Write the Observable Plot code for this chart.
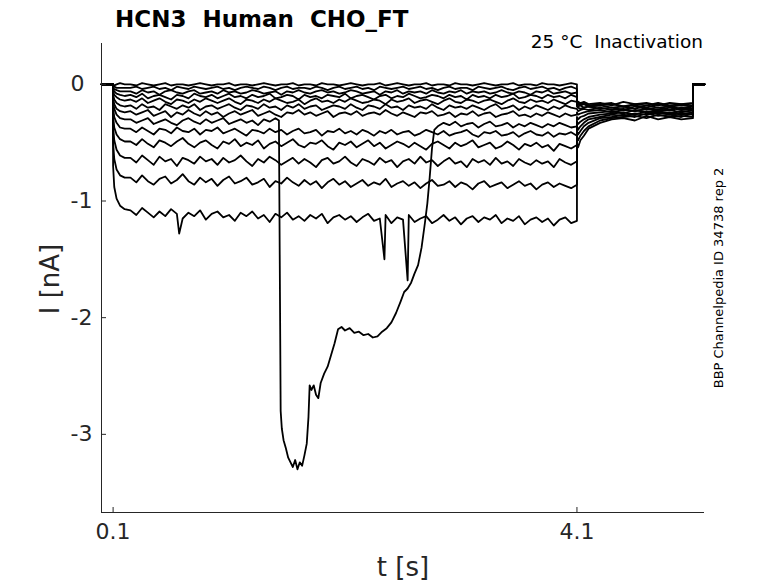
<!DOCTYPE html>
<html><head><meta charset="utf-8">
<script src="https://cdn.jsdelivr.net/npm/d3@7"></script>
<script src="https://cdn.jsdelivr.net/npm/@observablehq/plot@0.6"></script>
<style>body{margin:0;background:#fff} #chart{width:778px;height:583px}</style>
</head><body><div id="chart"></div>
<script>
const titleText = "HCN3  Human  CHO_FT";
const subtitleText = "25 \u00B0C  Inactivation";
const sideText = "BBP Channelpedia ID 34738 rep 2";
const xLabel = "t [s]";
const yLabel = "I [nA]";
const xTicks = [0.1, 4.1];
const yTicks = [0, -1, -2, -3];
const xDomain = [0, 5.2];
const yDomain = [-3.67, 0.35];

const preT = [0, 0.05, 0.099];
const preI = [0, 0, 0];
const onsetT = [0.1, 0.11, 0.13, 0.16, 0.2];
const mainT = [0.25,0.30,0.35,0.40,0.45,0.50,0.55,0.60,0.65,0.70,
 0.75,0.80,0.85,0.90,0.95,1.00,1.05,1.10,1.15,1.20,
 1.25,1.30,1.35,1.40,1.45,1.50,1.55,1.60,1.65,1.70,
 1.75,1.80,1.85,1.90,1.95,2.00,2.05,2.10,2.15,2.20,
 2.25,2.30,2.35,2.40,2.45,2.50,2.55,2.60,2.65,2.70,
 2.75,2.80,2.85,2.90,2.95,3.00,3.05,3.10,3.15,3.20,
 3.25,3.30,3.35,3.40,3.45,3.50,3.55,3.60,3.65,3.70,
 3.75,3.80,3.85,3.90,3.95,4.00,4.05,4.10];
const tailT = [4.1, 4.11, 4.13, 4.16, 4.2, 4.3, 4.4, 4.5, 4.6, 4.7, 4.8, 4.9, 5.0, 5.1];
const endT = [5.1, 5.2];
const endI = [0, 0];

const onsetI = [
 [0,-0.01,0,0.01,0],
 [-0.01,-0.02,-0.03,-0.03,-0.03],
 [-0.03,-0.04,-0.05,-0.06,-0.06],
 [-0.04,-0.06,-0.08,-0.09,-0.10],
 [-0.06,-0.09,-0.11,-0.13,-0.14],
 [-0.09,-0.13,-0.16,-0.18,-0.19],
 [-0.12,-0.17,-0.21,-0.23,-0.24],
 [-0.15,-0.21,-0.26,-0.29,-0.30],
 [-0.20,-0.28,-0.33,-0.37,-0.38],
 [-0.27,-0.37,-0.43,-0.47,-0.49],
 [-0.36,-0.48,-0.56,-0.61,-0.63],
 [-0.50,-0.64,-0.73,-0.78,-0.80],
 [-0.70,-0.88,-0.98,-1.04,-1.07]
];

const mainI = [
 [0,-0.01,0.01,0,-0.01,0,0.01,-0.01,0,0,
  -0.01,0,0.01,0,-0.01,0,0,0.01,-0.01,0,
  0,-0.01,0,0.01,0,-0.01,0,0,0.01,-0.01,
  0,0,-0.01,0.01,0,0,-0.01,0,0.01,0,
  -0.01,0,0,0.01,-0.01,0,0.01,0,-0.01,0,
  0,0.01,-0.01,0,0,-0.01,0.01,0,0,-0.01,
  0,0.01,0,-0.01,0,0,0.01,-0.01,0,0,
  -0.01,0.01,0,0,-0.01,0,0.01,0],
 [-0.03,-0.02,-0.04,-0.03,-0.02,-0.04,-0.03,-0.05,-0.02,-0.03,
  -0.04,-0.02,-0.03,-0.04,-0.03,-0.02,-0.04,-0.03,-0.05,-0.03,
  -0.02,-0.03,-0.04,-0.02,-0.03,-0.05,-0.03,-0.02,-0.04,-0.03,
  -0.03,-0.04,-0.02,-0.03,-0.05,-0.03,-0.02,-0.04,-0.03,-0.02,
  -0.04,-0.03,-0.05,-0.02,-0.03,-0.04,-0.03,-0.02,-0.04,-0.03,
  -0.02,-0.04,-0.03,-0.05,-0.03,-0.02,-0.04,-0.03,-0.03,-0.05,
  -0.02,-0.03,-0.04,-0.03,-0.02,-0.04,-0.05,-0.03,-0.02,-0.04,
  -0.03,-0.02,-0.04,-0.03,-0.05,-0.03,-0.02,-0.04],
 [-0.06,-0.08,-0.05,-0.07,-0.06,-0.09,-0.06,-0.05,-0.07,-0.08,
  -0.06,-0.05,-0.08,-0.07,-0.06,-0.08,-0.05,-0.07,-0.06,-0.08,
  -0.07,-0.05,-0.06,-0.08,-0.07,-0.06,-0.09,-0.06,-0.07,-0.05,
  -0.07,-0.08,-0.06,-0.05,-0.07,-0.06,-0.08,-0.07,-0.05,-0.06,
  -0.08,-0.07,-0.06,-0.09,-0.06,-0.07,-0.05,-0.08,-0.06,-0.07,
  -0.06,-0.08,-0.05,-0.07,-0.08,-0.06,-0.07,-0.05,-0.08,-0.06,
  -0.07,-0.06,-0.08,-0.07,-0.05,-0.07,-0.08,-0.06,-0.07,-0.09,
  -0.06,-0.07,-0.05,-0.08,-0.07,-0.06,-0.08,-0.07],
 [-0.09,-0.11,-0.08,-0.12,-0.10,-0.09,-0.11,-0.13,-0.09,-0.10,
  -0.12,-0.08,-0.10,-0.11,-0.09,-0.12,-0.10,-0.08,-0.11,-0.10,
  -0.12,-0.09,-0.11,-0.10,-0.08,-0.12,-0.11,-0.09,-0.10,-0.13,
  -0.09,-0.11,-0.10,-0.12,-0.09,-0.10,-0.11,-0.08,-0.12,-0.10,
  -0.09,-0.11,-0.13,-0.10,-0.09,-0.12,-0.10,-0.11,-0.08,-0.10,
  -0.12,-0.11,-0.09,-0.10,-0.12,-0.09,-0.11,-0.10,-0.13,-0.09,
  -0.11,-0.10,-0.12,-0.09,-0.11,-0.10,-0.08,-0.12,-0.11,-0.09,
  -0.10,-0.12,-0.09,-0.11,-0.10,-0.12,-0.09,-0.11],
 [-0.13,-0.15,-0.12,-0.16,-0.14,-0.12,-0.15,-0.17,-0.13,-0.14,
  -0.16,-0.13,-0.15,-0.12,-0.14,-0.16,-0.14,-0.12,-0.15,-0.17,
  -0.13,-0.14,-0.16,-0.13,-0.15,-0.12,-0.14,-0.16,-0.15,-0.13,
  -0.17,-0.14,-0.12,-0.15,-0.14,-0.16,-0.13,-0.15,-0.12,-0.14,
  -0.16,-0.15,-0.13,-0.14,-0.17,-0.13,-0.15,-0.14,-0.12,-0.16,
  -0.14,-0.13,-0.15,-0.17,-0.14,-0.12,-0.15,-0.16,-0.13,-0.14,
  -0.16,-0.14,-0.13,-0.15,-0.17,-0.14,-0.12,-0.15,-0.16,-0.13,
  -0.15,-0.14,-0.16,-0.13,-0.15,-0.17,-0.14,-0.15],
 [-0.18,-0.21,-0.17,-0.20,-0.19,-0.22,-0.17,-0.19,-0.21,-0.18,
  -0.20,-0.17,-0.22,-0.19,-0.18,-0.21,-0.19,-0.17,-0.20,-0.22,
  -0.18,-0.19,-0.21,-0.17,-0.20,-0.19,-0.22,-0.18,-0.20,-0.17,
  -0.21,-0.19,-0.18,-0.22,-0.20,-0.18,-0.19,-0.21,-0.17,-0.20,
  -0.22,-0.18,-0.19,-0.21,-0.17,-0.20,-0.19,-0.22,-0.18,-0.20,
  -0.19,-0.21,-0.17,-0.20,-0.22,-0.18,-0.20,-0.19,-0.21,-0.18,
  -0.20,-0.22,-0.19,-0.17,-0.21,-0.20,-0.18,-0.22,-0.19,-0.21,
  -0.18,-0.20,-0.22,-0.19,-0.21,-0.18,-0.20,-0.21],
 [-0.23,-0.26,-0.24,-0.22,-0.27,-0.25,-0.23,-0.28,-0.24,-0.26,
  -0.22,-0.25,-0.27,-0.23,-0.26,-0.24,-0.28,-0.25,-0.23,-0.26,
  -0.24,-0.22,-0.27,-0.25,-0.23,-0.26,-0.28,-0.24,-0.25,-0.22,
  -0.26,-0.24,-0.27,-0.25,-0.23,-0.28,-0.25,-0.24,-0.26,-0.23,
  -0.27,-0.25,-0.24,-0.26,-0.22,-0.25,-0.27,-0.24,-0.26,-0.28,
  -0.24,-0.25,-0.23,-0.27,-0.26,-0.24,-0.28,-0.25,-0.26,-0.23,
  -0.27,-0.25,-0.24,-0.28,-0.26,-0.25,-0.23,-0.27,-0.26,-0.28,
  -0.25,-0.27,-0.24,-0.26,-0.28,-0.25,-0.27,-0.26],
 [-0.30,-0.33,-0.31,-0.29,-0.34,-0.32,-0.30,-0.33,-0.35,-0.31,
  -0.29,-0.32,-0.34,-0.30,-0.33,-0.31,-0.29,-0.34,-0.32,-0.30,
  -0.33,-0.31,-0.35,-0.30,-0.32,-0.29,-0.33,-0.31,-0.34,-0.30,
  -0.32,-0.35,-0.31,-0.33,-0.30,-0.34,-0.32,-0.31,-0.35,-0.33,
  -0.31,-0.34,-0.32,-0.30,-0.35,-0.33,-0.31,-0.34,-0.32,-0.36,
  -0.33,-0.31,-0.34,-0.36,-0.33,-0.35,-0.32,-0.36,-0.34,-0.33,
  -0.37,-0.34,-0.32,-0.36,-0.35,-0.33,-0.37,-0.34,-0.36,-0.33,
  -0.35,-0.37,-0.34,-0.36,-0.33,-0.35,-0.37,-0.36],
 [-0.38,-0.41,-0.37,-0.40,-0.43,-0.38,-0.39,-0.42,-0.37,-0.40,
  -0.41,-0.38,-0.43,-0.39,-0.40,-0.37,-0.42,-0.40,-0.38,-0.41,
  -0.44,-0.39,-0.40,-0.42,-0.38,-0.41,-0.39,-0.43,-0.40,-0.38,
  -0.42,-0.41,-0.39,-0.44,-0.40,-0.41,-0.38,-0.42,-0.40,-0.43,
  -0.39,-0.41,-0.44,-0.40,-0.42,-0.39,-0.43,-0.41,-0.40,-0.44,
  -0.42,-0.39,-0.41,-0.43,-0.40,-0.44,-0.42,-0.41,-0.39,-0.43,
  -0.45,-0.41,-0.42,-0.40,-0.44,-0.43,-0.41,-0.45,-0.42,-0.40,
  -0.43,-0.44,-0.41,-0.45,-0.42,-0.43,-0.41,-0.44],
 [-0.49,-0.52,-0.47,-0.51,-0.54,-0.48,-0.50,-0.53,-0.49,-0.46,
  -0.51,-0.54,-0.50,-0.48,-0.52,-0.55,-0.49,-0.51,-0.47,-0.53,
  -0.50,-0.52,-0.48,-0.55,-0.51,-0.49,-0.53,-0.50,-0.47,-0.52,
  -0.54,-0.50,-0.51,-0.48,-0.53,-0.56,-0.50,-0.52,-0.49,-0.54,
  -0.51,-0.48,-0.53,-0.50,-0.55,-0.52,-0.49,-0.51,-0.54,-0.50,
  -0.53,-0.56,-0.51,-0.49,-0.52,-0.55,-0.50,-0.53,-0.51,-0.48,
  -0.54,-0.52,-0.50,-0.55,-0.53,-0.49,-0.52,-0.56,-0.51,-0.53,
  -0.50,-0.54,-0.52,-0.57,-0.51,-0.53,-0.55,-0.52],
 [-0.63,-0.67,-0.61,-0.65,-0.69,-0.62,-0.66,-0.64,-0.70,-0.63,
  -0.65,-0.68,-0.62,-0.66,-0.64,-0.69,-0.63,-0.67,-0.65,-0.61,
  -0.66,-0.70,-0.64,-0.67,-0.62,-0.65,-0.69,-0.66,-0.63,-0.68,
  -0.64,-0.67,-0.71,-0.65,-0.63,-0.68,-0.66,-0.62,-0.67,-0.70,
  -0.64,-0.66,-0.69,-0.63,-0.67,-0.65,-0.71,-0.66,-0.64,-0.68,
  -0.62,-0.67,-0.65,-0.70,-0.66,-0.63,-0.68,-0.66,-0.71,-0.64,
  -0.67,-0.65,-0.69,-0.63,-0.68,-0.66,-0.70,-0.64,-0.67,-0.69,
  -0.65,-0.68,-0.66,-0.71,-0.64,-0.67,-0.69,-0.66],
 [-0.80,-0.84,-0.78,-0.83,-0.86,-0.81,-0.79,-0.85,-0.82,-0.77,
  -0.83,-0.86,-0.80,-0.84,-0.81,-0.87,-0.82,-0.79,-0.85,-0.83,
  -0.80,-0.86,-0.84,-0.81,-0.88,-0.83,-0.85,-0.80,-0.84,-0.87,
  -0.82,-0.86,-0.83,-0.89,-0.84,-0.81,-0.86,-0.83,-0.88,-0.85,
  -0.82,-0.87,-0.84,-0.86,-0.81,-0.88,-0.85,-0.83,-0.87,-0.84,
  -0.89,-0.85,-0.82,-0.87,-0.86,-0.83,-0.88,-0.84,-0.86,-0.90,
  -0.85,-0.83,-0.88,-0.86,-0.84,-0.89,-0.86,-0.83,-0.87,-0.85,
  -0.90,-0.86,-0.84,-0.88,-0.85,-0.87,-0.89,-0.86],
 [-1.08,-1.12,-1.06,-1.10,-1.14,-1.09,-1.13,-1.07,-1.11,-1.15,
  -1.10,-1.13,-1.08,-1.16,-1.11,-1.09,-1.14,-1.12,-1.17,-1.10,
  -1.13,-1.09,-1.15,-1.12,-1.18,-1.11,-1.14,-1.10,-1.16,-1.13,
  -1.17,-1.12,-1.15,-1.11,-1.19,-1.14,-1.12,-1.16,-1.13,-1.18,
  -1.14,-1.11,-1.17,-1.15,-1.12,-1.19,-1.14,-1.16,-1.12,-1.18,
  -1.15,-1.13,-1.19,-1.16,-1.12,-1.17,-1.14,-1.20,-1.15,-1.13,
  -1.18,-1.14,-1.16,-1.12,-1.19,-1.15,-1.17,-1.13,-1.20,-1.16,
  -1.14,-1.18,-1.15,-1.21,-1.16,-1.14,-1.19,-1.17]
];

const tailI = [
 [-0.14,-0.15,-0.16,-0.15,-0.17,-0.16,-0.18,-0.15,-0.17,-0.16,-0.18,-0.16,-0.17,-0.16],
 [-0.15,-0.16,-0.17,-0.16,-0.18,-0.17,-0.16,-0.19,-0.17,-0.18,-0.16,-0.18,-0.17,-0.18],
 [-0.16,-0.17,-0.18,-0.17,-0.19,-0.18,-0.17,-0.19,-0.18,-0.20,-0.17,-0.19,-0.18,-0.19],
 [-0.17,-0.19,-0.18,-0.20,-0.19,-0.18,-0.20,-0.19,-0.21,-0.18,-0.20,-0.19,-0.21,-0.19],
 [-0.19,-0.20,-0.21,-0.20,-0.19,-0.21,-0.20,-0.22,-0.19,-0.21,-0.20,-0.22,-0.20,-0.21],
 [-0.21,-0.23,-0.22,-0.21,-0.22,-0.20,-0.22,-0.21,-0.23,-0.21,-0.22,-0.20,-0.22,-0.21],
 [-0.24,-0.26,-0.25,-0.24,-0.23,-0.22,-0.24,-0.22,-0.23,-0.21,-0.23,-0.22,-0.24,-0.22],
 [-0.28,-0.30,-0.28,-0.27,-0.25,-0.24,-0.23,-0.25,-0.22,-0.24,-0.23,-0.25,-0.23,-0.24],
 [-0.32,-0.34,-0.32,-0.30,-0.28,-0.26,-0.25,-0.24,-0.26,-0.23,-0.25,-0.24,-0.26,-0.24],
 [-0.36,-0.39,-0.36,-0.33,-0.30,-0.28,-0.26,-0.27,-0.25,-0.26,-0.24,-0.26,-0.25,-0.26],
 [-0.40,-0.43,-0.40,-0.36,-0.33,-0.29,-0.28,-0.26,-0.28,-0.25,-0.27,-0.26,-0.28,-0.25],
 [-0.45,-0.48,-0.44,-0.40,-0.36,-0.31,-0.29,-0.28,-0.27,-0.29,-0.26,-0.28,-0.27,-0.28],
 [-0.50,-0.54,-0.48,-0.44,-0.38,-0.33,-0.30,-0.29,-0.31,-0.27,-0.30,-0.28,-0.30,-0.29]
];

// large transient on one sweep
const eventTrace = 7;
const eventT = [1.53,1.545,1.555,1.57,1.59,1.61,1.63,1.65,1.67,1.69,1.71,1.73,1.75,1.77,1.785,1.795,1.81,1.83,1.85,1.87,1.89,1.92,1.95,1.98,2.01,2.04,2.07,2.10,2.14,2.18,2.22,2.26,2.30,2.34,2.38,2.42,2.46,2.50,2.54,2.58,2.61,2.64,2.67,2.70,2.73,2.76,2.79,2.81,2.83,2.85,2.87];
const eventI = [-0.31,-2.80,-2.95,-3.05,-3.12,-3.20,-3.24,-3.28,-3.22,-3.30,-3.24,-3.27,-3.18,-3.08,-2.85,-2.58,-2.62,-2.58,-2.66,-2.69,-2.56,-2.48,-2.42,-2.32,-2.22,-2.10,-2.08,-2.11,-2.09,-2.13,-2.12,-2.15,-2.14,-2.17,-2.16,-2.12,-2.09,-2.04,-1.96,-1.86,-1.78,-1.75,-1.70,-1.62,-1.55,-1.40,-1.18,-1.02,-0.80,-0.55,-0.39];

// brief spikes on the largest sweep
const spikeTrace = 12;
const spikeT = [0.67, 2.44, 2.64];
const spikeI = [-1.28, -1.50, -1.68];

const rows = [];
for (let k = 0; k < mainI.length; k++) {
  const pts = [];
  preT.forEach((t, i) => pts.push({t, I: preI[i]}));
  onsetT.forEach((t, i) => pts.push({t, I: onsetI[k][i]}));
  mainT.forEach((t, i) => {
    if (k === eventTrace && t >= eventT[0] && t <= eventT[eventT.length - 1]) return;
    pts.push({t, I: mainI[k][i]});
  });
  if (k === eventTrace) eventT.forEach((t, i) => pts.push({t, I: eventI[i]}));
  if (k === spikeTrace) spikeT.forEach((t, i) => pts.push({t, I: spikeI[i]}));
  tailT.forEach((t, i) => pts.push({t, I: tailI[k][i]}));
  endT.forEach((t, i) => pts.push({t, I: endI[i]}));
  pts.sort((a, b) => a.t - b.t);
  pts.forEach(p => rows.push({t: p.t, I: p.I, trace: k}));
}

const W = 778, H = 583, mL = 101, mR = 74, mT = 43, mB = 71;
const axisColor = "#262626";
const font = "DejaVu Sans";

const chart = Plot.plot({
  width: W, height: H,
  marginLeft: mL, marginRight: mR, marginTop: mT, marginBottom: mB,
  style: {fontFamily: font, background: "white", color: axisColor, overflow: "visible"},
  x: {domain: xDomain},
  y: {domain: yDomain, axis: null},
  marks: [
    Plot.line(rows, {x: "t", y: "I", z: "trace", stroke: "black", strokeWidth: 1.8, strokeLinejoin: "round"}),
    Plot.ruleX([xDomain[0]], {stroke: axisColor, strokeWidth: 1}),
    Plot.ruleY([yDomain[0]], {stroke: axisColor, strokeWidth: 1}),
    Plot.tickX(xTicks, {x: d => d, stroke: axisColor, insetTop: H - mT - mB - 5}),
    Plot.tickY(yTicks, {y: d => d, stroke: axisColor, insetRight: W - mL - mR - 5}),
    Plot.axisX(xTicks, {tickSize: 0, tickPadding: 11, fontSize: 22, label: null, tickFormat: d => String(d)}),
    Plot.text(yTicks, {y: d => d, text: d => String(d), frameAnchor: "left", dx: -31, textAnchor: "start", fontSize: 22, fill: axisColor})
  ]
});

const svg = d3.select(chart);
svg.append("text").attr("x", 115).attr("y", 27).attr("font-size", 23).attr("font-weight", "bold").attr("text-anchor", "start")
  .attr("font-family", font).attr("fill", "#000").style("white-space", "pre").text(titleText);
svg.append("text").attr("x", 703).attr("y", 48).attr("font-size", 18.5).attr("text-anchor", "end")
  .attr("font-family", font).attr("fill", "#000").style("white-space", "pre").text(subtitleText);
svg.append("text").attr("transform", "translate(723,278) rotate(-90)").attr("font-size", 13).attr("text-anchor", "middle")
  .attr("font-family", font).attr("fill", "#000").text(sideText);
svg.append("text").attr("transform", "translate(59,279) rotate(-90)").attr("font-size", 26).attr("text-anchor", "middle")
  .attr("font-family", font).attr("fill", axisColor).text(yLabel);
svg.append("text").attr("x", 403).attr("y", 576).attr("font-size", 26).attr("text-anchor", "middle")
  .attr("font-family", font).attr("fill", axisColor).text(xLabel);

document.getElementById("chart").appendChild(chart);
</script>
</body></html>
